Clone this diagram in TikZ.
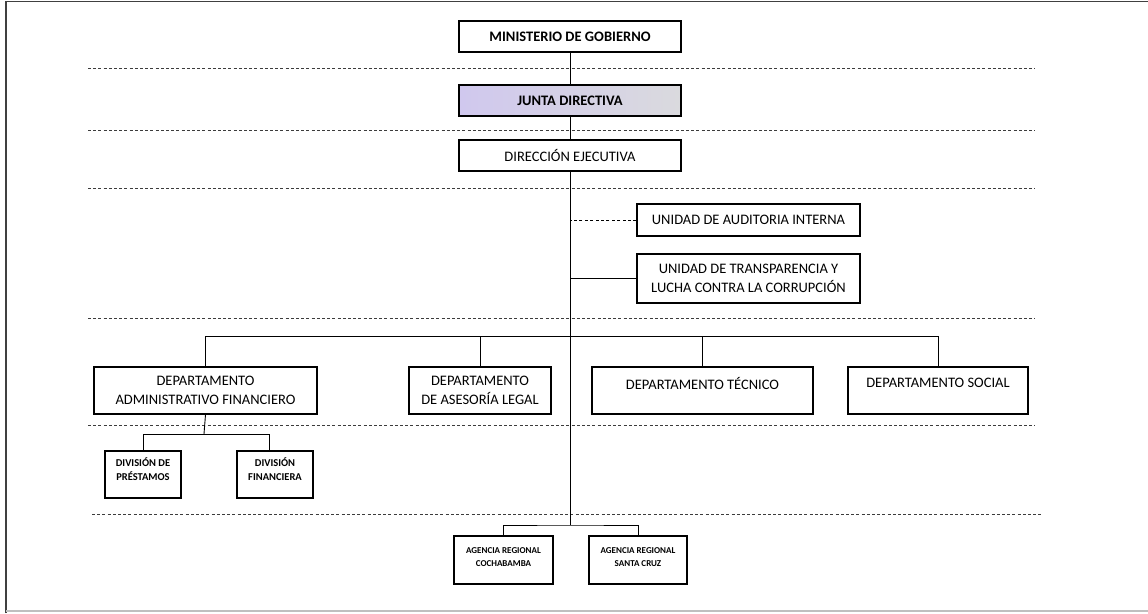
\documentclass[tikz,border=0pt]{standalone}
\usepackage{fontspec}
\setmainfont{Carlito}
\definecolor{jl}{RGB}{208,200,238}
\definecolor{jr}{RGB}{218,218,222}
\definecolor{dotc}{RGB}{60,60,60}
\tikzset{
  bx/.style={draw=black, line width=1.3pt, inner sep=0pt, align=center, fill=white,
     font={\fontsize{14.5}{19}\selectfont}},
  bxb/.style={bx, font={\fontsize{14.5}{19}\selectfont\bfseries}},
  sbx/.style={draw=black, line width=1.1pt, inner sep=0pt, fill=white},
  divtxt/.style={align=center, font={\fontsize{10.5}{14}\selectfont\bfseries}},
  agtxt/.style={align=center, font={\fontsize{9}{13}\selectfont\bfseries}},
  deptxt/.style={align=center, font={\fontsize{14.5}{19}\selectfont}},
  conn/.style={draw=black, line width=0.9pt},
  trunk/.style={draw=black, line width=1pt},
  dotline/.style={draw=dotc, line width=0.8pt, dash pattern=on 3pt off 2.2pt},
  dashconn/.style={draw=black, line width=0.9pt, dash pattern=on 3pt off 2.4pt}
}
\begin{document}
\begin{tikzpicture}[x=1pt,y=-1pt]
\useasboundingbox (0,0) rectangle (1148,613);
% frame
\draw[line width=1.6pt, black!75] (6,613) -- (6,1.5) -- (1148,1.5);
\draw[line width=1.2pt, black!25] (6,611) -- (1148,611);
% dotted separators
\foreach \yy in {68,130,188,318,425} {\draw[dotline] (88,\yy) -- (1035,\yy);}
\draw[dotline] (92,514) -- (1041,514);
% boxes
\node[bxb, minimum width=222pt, minimum height=31pt] (min) at (570,36.5) {MINISTERIO DE GOBIERNO};
\node[bxb, minimum width=222pt, minimum height=31pt, left color=jl, right color=jr] (jun) at (570,100.5) {JUNTA DIRECTIVA};
\node[bx, minimum width=222pt, minimum height=31pt] (dir) at (570,155.5) {DIRECCIÓN EJECUTIVA};
\node[bx, minimum width=223pt, minimum height=32pt] (uai) at (748.5,220) {UNIDAD DE AUDITORIA INTERNA};
\node[bx, minimum width=223pt, minimum height=49pt] (ut) at (748.5,278.5) {UNIDAD DE TRANSPARENCIA Y\\LUCHA CONTRA LA CORRUPCIÓN};
\node[bx, minimum width=223pt, minimum height=47pt] (daf) at (205.5,390.5) {DEPARTAMENTO\\ADMINISTRATIVO FINANCIERO};
\node[bx, minimum width=142pt, minimum height=47pt] (dal) at (480,390.5) {DEPARTAMENTO\\DE ASESORÍA LEGAL};
\node[bx, minimum width=221pt, minimum height=47pt, label={[deptxt, yshift=7.5pt]center:DEPARTAMENTO TÉCNICO}] (dt) at (702.5,390.5) {};
\node[bx, minimum width=180pt, minimum height=47pt, label={[deptxt, yshift=7.5pt]center:DEPARTAMENTO SOCIAL}] (ds) at (938,390.5) {};
\node[sbx, minimum width=76pt, minimum height=47pt, label={[divtxt, yshift=5.5pt]center:{DIVISIÓN DE\\PRÉSTAMOS}}] (dp) at (143,474.5) {};
\node[sbx, minimum width=76pt, minimum height=47pt, label={[divtxt, yshift=5.5pt]center:{DIVISIÓN\\FINANCIERA}}] (df) at (275,474.5) {};
\node[sbx, minimum width=99pt, minimum height=48pt, label={[agtxt, yshift=2.5pt]center:{AGENCIA REGIONAL\\COCHABAMBA}}] (ac) at (503.5,560) {};
\node[sbx, minimum width=98pt, minimum height=48pt, label={[agtxt, yshift=2.5pt]center:{AGENCIA REGIONAL\\SANTA CRUZ}}] (as) at (638,560) {};
% bus coordinates
\coordinate (dbus) at (570,336);
\coordinate (abus) at (570,525);
\coordinate (vbus) at (204,434);
% connectors
\draw[trunk] (min.south) -- (jun.north);
\draw[trunk] (jun.south) -- (dir.north);
\draw[trunk] (dir.south) -- (abus);
\draw[dashconn] (uai.west) -- (uai.west -| dir.south);
\draw[conn] (ut.west) -- (ut.west -| dir.south);
\draw[conn] (daf.north) |- (ds.north |- dbus) -- (ds.north);
\draw[conn] (dal.north) -- (dal.north |- dbus);
\draw[conn] (dt.north) -- (dt.north |- dbus);
\draw[conn] (daf.south) -- (vbus);
\draw[conn] (dp.north) |- ([xshift=-6pt]df.north |- vbus) -- ([xshift=-6pt]df.north);
\draw[conn] (ac.north) |- (abus) -| (as.north);
\end{tikzpicture}
\end{document}
